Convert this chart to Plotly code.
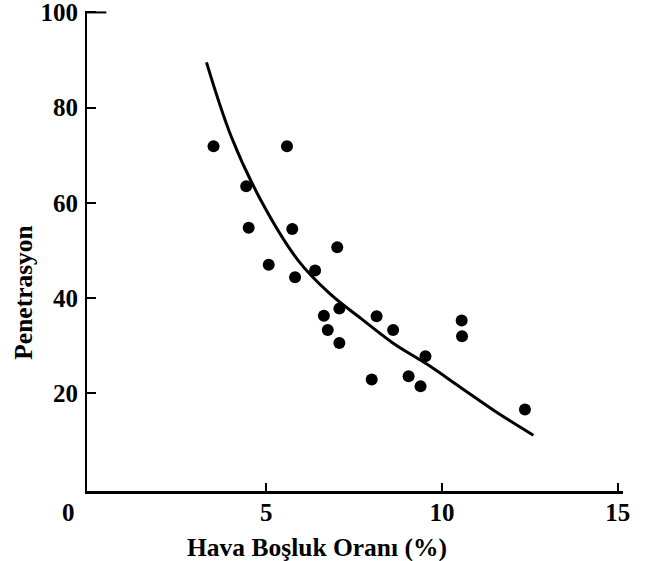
import plotly.graph_objects as go

# Observed data points
air_voids = [3.50, 5.59, 4.43, 4.50, 5.74, 7.02, 5.07, 5.82, 6.39, 7.08, 6.64,
             8.14, 8.61, 6.75, 7.08, 8.00, 10.56, 10.57, 9.53, 9.05, 9.39, 12.36]
penetration = [71.9, 71.9, 63.5, 54.8, 54.5, 50.7, 47.0, 44.4, 45.8, 37.8, 36.3,
               36.2, 33.3, 33.3, 30.6, 22.9, 35.3, 32.0, 27.8, 23.6, 21.5, 16.6]

# Trend curve
curve_x = [3.3, 4.0, 4.85, 5.9, 6.8, 7.7, 8.6, 9.6, 10.5, 11.5, 12.6]
curve_y = [89.5, 74.0, 60.5, 48.0, 41.0, 35.7, 30.6, 26.0, 21.4, 16.3, 11.2]

x_ticks = [5, 10, 15]
y_ticks = [20, 40, 60, 80, 100]

FONT = "Liberation Serif"
TICK_SIZE = 25
TITLE_SIZE = 25.5

fig = go.Figure()
fig.add_trace(go.Scatter(x=curve_x, y=curve_y, mode="lines",
                         line=dict(color="black", width=3, shape="spline"),
                         hoverinfo="skip", showlegend=False))
fig.add_trace(go.Scatter(x=air_voids, y=penetration, mode="markers",
                         marker=dict(color="black", size=12),
                         showlegend=False))

fig.update_layout(
    width=645, height=561,
    margin=dict(l=86.5, r=21.5, t=11, b=70.3),
    plot_bgcolor="white", paper_bgcolor="white",
    font=dict(family=FONT, color="black", size=TICK_SIZE),
    xaxis=dict(range=[-0.1, 15.15], tickvals=x_ticks, ticktext=[f"<b>{v}</b>" for v in x_ticks],
               showgrid=False, zeroline=False, showline=True, linecolor="black", linewidth=3,
               ticks="inside", ticklen=8, tickwidth=2, tickcolor="black", automargin=False,
               tickfont=dict(family=FONT, size=TICK_SIZE, color="black"),
               ticklabelstandoff=-3, ticklabeloverflow="allow"),
    yaxis=dict(range=[-0.5, 100.3], tickvals=y_ticks, ticktext=[f"<b>{v}</b>" for v in y_ticks],
               showgrid=False, zeroline=False, showline=True, linecolor="black", linewidth=2,
               ticks="inside", ticklen=9, tickwidth=2, tickcolor="black", automargin=False,
               tickfont=dict(family=FONT, size=TICK_SIZE, color="black"),
               ticklabelstandoff=2, ticklabeloverflow="allow"),
)

# longer tick at 100
fig.add_shape(type="line", xref="x", yref="y", x0=-0.1, x1=0.45, y0=100, y1=100,
              line=dict(color="black", width=2))

# origin label
fig.add_annotation(text="<b>0</b>", xref="x", yref="paper", x=0, y=0,
                   xshift=-22, yshift=-21, xanchor="center", yanchor="middle", showarrow=False,
                   font=dict(family=FONT, size=TICK_SIZE, color="black"))
# x title
fig.add_annotation(text="<b>Hava Boşluk Oranı (%)</b>", xref="paper", yref="paper",
                   x=0.429, y=0, xanchor="center", yanchor="middle", yshift=-56, showarrow=False,
                   font=dict(family=FONT, size=TITLE_SIZE, color="black"))
# y title
fig.add_annotation(text="<b>Penetrasyon</b>", xref="paper", yref="paper",
                   x=0, y=0.413, xshift=-63, xanchor="center", yanchor="middle",
                   textangle=-90, showarrow=False,
                   font=dict(family=FONT, size=TITLE_SIZE, color="black"))

fig.write_html("out.html", config={"displayModeBar": False},
               post_script="document.body.style.margin='0';")
